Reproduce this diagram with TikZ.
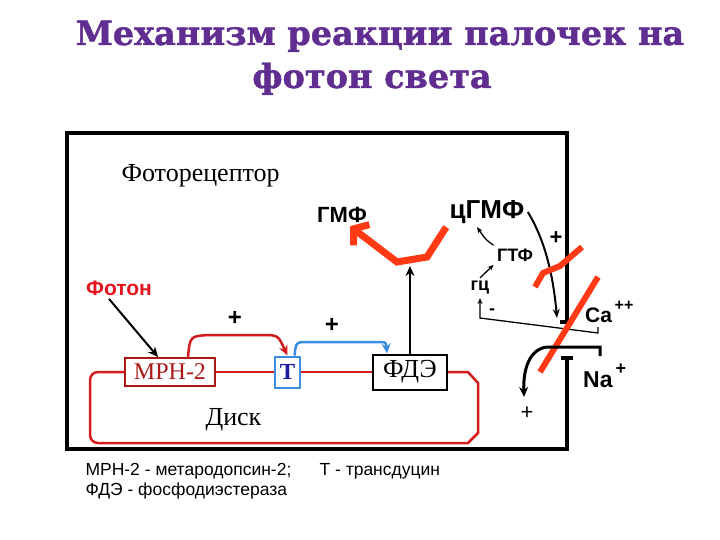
\documentclass[tikz,border=0pt]{standalone}
\usepackage{fontspec}
\setmainfont{Liberation Serif}
\newfontfamily\sansfont{Liberation Sans}
\newfontfamily\titlefont[BoldFeatures={FakeBold=1.2}]{DejaVu Serif}
\usetikzlibrary{arrows.meta}
\definecolor{titleviolet}{RGB}{96,45,145}
\definecolor{diskred}{RGB}{212,28,28}
\definecolor{mrnred}{RGB}{170,24,24}
\definecolor{pdeorange}{RGB}{255,58,20}
\definecolor{tblue}{RGB}{60,140,224}
\definecolor{tnavy}{RGB}{28,28,156}
\definecolor{photonred}{RGB}{230,20,30}
\newcommand{\fsz}[1]{\fontsize{#1}{#1}\selectfont}

\begin{document}
\begin{tikzpicture}[x=1pt,y=-1pt,>={Stealth[length=10pt,width=9pt]},
  lbl/.style={font=\sansfont\bfseries\fsz{#1}},
  enzbox/.style={draw,line width=2pt,inner sep=0pt,fill=white},
  thinarrow/.style={line width=1.3pt,-{Stealth[length=6pt,width=5pt]}},
  wall/.style={line width=4.5pt},
  pde/.style={pdeorange,line width=7pt}]
\useasboundingbox (0,0) rectangle (720,540);

% title
\node[anchor=base,text=titleviolet,font=\titlefont\bfseries\fsz{33.5}] (title1) at (380,45) {Механизм реакции палочек на};
\node[anchor=base,text=titleviolet,font=\titlefont\bfseries\fsz{33.5}] (title2) at (372,88) {фотон света};

% cell membrane
\draw[wall] (560,322) -- (567,322) -- (567,133) -- (67,133) -- (67,449) -- (567,449) -- (567,358);
\draw[wall] (561,358) -- (573,358);
\node[anchor=base west,font=\fsz{26}] (photoreceptor) at (118,182) {Фоторецептор};

% disk
\node[anchor=base west,font=\fsz{26}] (disk) at (202,425) {Диск};
\node[enzbox,draw=mrnred,text=mrnred,minimum width=90pt,minimum height=28pt,font=\fsz{24}] (mrn) at (170,372) {МРН-2};
\node[enzbox,draw=tblue,text=tnavy,minimum width=25pt,minimum height=31pt,font=\bfseries\fsz{23}] (t) at (287.5,372) {Т};
\node[enzbox,minimum width=74pt,minimum height=35pt,font=\fsz{26}] (fde) at (410,372) {ФДЭ};
\draw[diskred,line width=2.5pt] (mrn.west) [rounded corners=8pt] -- (90,372) -- (90,443) -- (120,443) [sharp corners] -- (468,443) -- (478,433) -- (478,383) -- (468,372) -- (fde.east);
\draw[diskred,line width=2.5pt] (mrn.east) -- (t.west) (t.east) -- (fde.west);

% light
\node[lbl=21,text=photonred] (photon) at (119,288) {Фотон};
\draw[->,line width=2pt] ([xshift=-10pt]photon.south) -- ([xshift=-12pt]mrn.north);
\draw[->,diskred,line width=2.5pt] ([xshift=18pt]mrn.north) .. controls (190,336) .. (210,335) -- (262,335) .. controls (278,335) .. (t.north);
\draw[->,tblue,line width=2.5pt] ([xshift=7pt]t.north) .. controls (296,342) .. (308,342) -- (378,342) .. controls (386,342) .. ([xshift=15pt]fde.north west);
\node[lbl=24] (plusA) at (235,318) {+};
\node[lbl=24] (plusB) at (332,325) {+};

% cGMP
\node[lbl=22] (gmp) at (342,215) {ГМФ};
\node[lbl=26] (cgmp) at (487,212) {цГМФ};
\node[lbl=18] (gtp) at (515,255) {ГТФ};
\node[lbl=18] (gc) at (480,288) {гц};
\node[lbl=18] (minus) at (492,312) {-};
\coordinate (pdehit) at (410,266);
\draw[pde,-{Straight Barb[length=10pt,width=26pt]}] (cgmp.south west) -- (427,257) -- (397,262) -- ([xshift=8pt]gmp.south);
\draw[->,line width=2.5pt] (fde.north) -- (pdehit);
\draw[thinarrow] (gtp.north west) .. controls (486,240) .. ([xshift=-10pt]cgmp.south);
\draw[thinarrow] (gc.north) -- (gtp.south west);

% channels
\node[lbl=21,anchor=base west,inner sep=0pt] (ca) at (585,322) {Ca\raisebox{1.0ex}{\fsz{16}\,++}};
\node[lbl=23,anchor=base west,inner sep=0pt] (na) at (583,387) {Na\raisebox{1.0ex}{\fsz{18}\,+}};
\coordinate (catick) at (598,327);
\coordinate (cagate) at (557,318);
\coordinate (natick) at (600,356);
\draw[thinarrow] (catick) -- (598,333) -- (gc.south |- 0,318) -- (gc.south);
\draw[-{Stealth[length=9pt,width=7pt]},line width=2pt] (cgmp.east) .. controls (540,232) and (552,262) .. (cagate);
\node[lbl=22] (plusC) at (556,238) {+};
\draw[pde,line width=6pt] (535,287) -- (543,273) -- (560,266) -- (582,247);
\draw[pde,line width=6pt] (598,277) -- (540,372);
\draw[->,line width=3pt] (natick) -- (600,347) -- (547,347) .. controls (530,349) and (523,368) .. (524,397);
\node[font=\sansfont\fsz{22}] (plusD) at (527,413) {+};

% key
\node[anchor=base west,font=\sansfont\fsz{17.5}] (key1) at (82,475) {МРН-2 - метародопсин-2;};
\node[anchor=base west,font=\sansfont\fsz{17.5}] (key2) at (316,475) {Т - трансдуцин};
\node[anchor=base west,font=\sansfont\fsz{17.5}] (key3) at (82,495) {ФДЭ - фосфодиэстераза};
\end{tikzpicture}
\end{document}
